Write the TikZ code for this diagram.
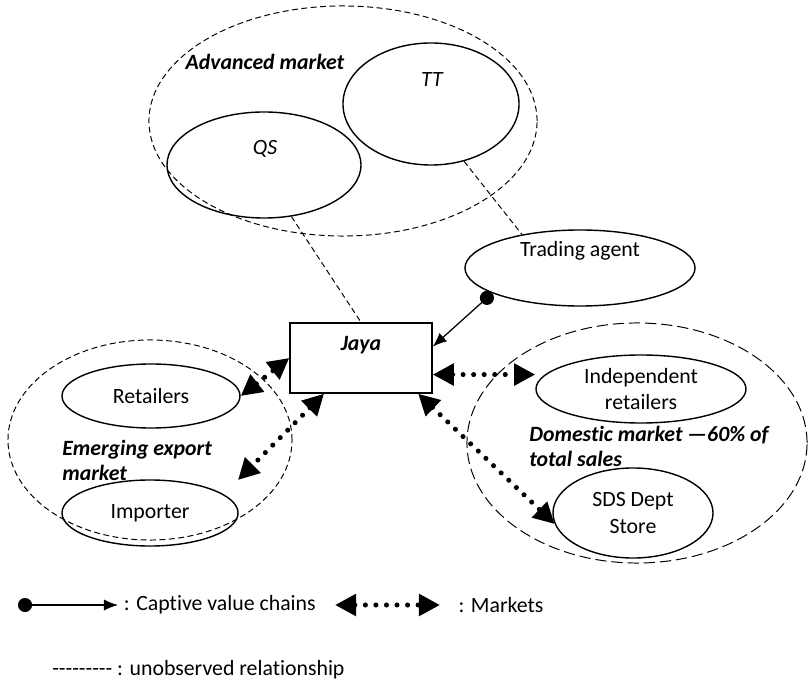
\documentclass[tikz,border=0pt]{standalone}
\usepackage{fontspec}
\setmainfont{Carlito}[Ligatures={TeXOff,NoCommon}]
\usepackage{tikz}
\usetikzlibrary{arrows.meta,positioning,shapes.geometric,calc}
\tikzset{
  market/.style   ={draw,ellipse,dash pattern=on 4.2pt off 2.5pt,line width=0.7pt},
  domestic/.style ={draw,ellipse,dash pattern=on 8pt off 3.5pt,line width=0.7pt},
  actor/.style    ={draw,ellipse,line width=1pt,align=center,inner sep=0pt,font=\fontsize{15.5}{19}\selectfont},
  firm/.style     ={draw,rectangle,line width=1pt,minimum width=3.55cm,minimum height=1.75cm},
  lbl/.style      ={inner sep=0pt,font=\fontsize{15.5}{18}\selectfont},
  title/.style    ={inner sep=0pt,align=left,font=\fontsize{15.5}{18}\selectfont\bfseries\itshape},
  unobs/.style    ={dash pattern=on 4pt off 2.5pt,line width=0.7pt},
  captive/.style  ={{Circle[length=10pt]}-{Latex[length=10pt,width=8pt]},line width=0.9pt},
  sale/.style     ={{Triangle[length=15pt,width=15pt]}-{Triangle[length=15pt,width=15pt]},
                    line width=3.6pt,line cap=round,dash pattern=on 0pt off 7.5pt}
}
\begin{document}
\begin{tikzpicture}[x=0.025cm,y=-0.025cm]
    \useasboundingbox (0,0) rectangle (808,681);
    \node[market,minimum width=9.7cm,minimum height=5.75cm] (adv) at (343,121) {};
    \node[actor,minimum width=4.4cm,minimum height=3.05cm]  (tt)  at (431,104) {};
    \node[actor,minimum width=4.85cm,minimum height=2.65cm] (qs)  at (264,165) {};
    \node[title] (adv-t) at (265,62)  {Advanced market};
    \node[lbl]   (tt-t)  at (432,80)  {\itshape TT};
    \node[lbl]   (qs-t)  at (265,149) {\itshape QS};
    \node[actor,minimum width=5.75cm,minimum height=1.9cm]  (agent) at (580,268) {};
    \node[lbl]   (agent-t) at (580,251) {Trading agent};
    \node[firm]  (jaya)   at (361,358) {};
    \node[title] (jaya-t) at (361,345) {Jaya};
    \node[market,minimum width=7.1cm,minimum height=5cm]    (emg)      at (150,440) {};
    \node[actor,minimum width=4.45cm,minimum height=1.6cm]  (retail)   at (151,396) {Retailers};
    \node[actor,minimum width=4.4cm,minimum height=1.65cm]  (importer) at (150,513) {Importer};
    \node[title,anchor=north west] (emg-t) at (62,440) {Emerging export\\market};
    \node[domestic,minimum width=8.5cm,minimum height=6cm]  (dom)   at (637,443) {};
    \node[actor,minimum width=5.25cm,minimum height=1.7cm]  (indep) at (641,389) {Independent\\retailers};
    \node[actor,minimum width=4cm,minimum height=2.25cm]    (sds)   at (633,513) {SDS Dept\\Store};
    \node[title,anchor=north west] (dom-t) at (529,426) {Domestic market —60\% of\\total sales};
    \coordinate (imp-end) at (238,480);
    \draw[unobs] (qs.-62) -- (jaya.north);
    \draw[unobs] (tt.-60) -- (agent.150);
    \draw[captive] (agent.196) -- (jaya.9);
    \draw[sale] (retail.east) -- (jaya.west);
    \draw[sale] (jaya.-136) -- (imp-end);
    \draw[sale] (jaya.-13) -- (jaya.-13 -| indep.west);
    \draw[sale] (jaya.-32) -- (sds.188);
    \coordinate (cap-a) at (18,605);
    \coordinate (cap-b) at (118,605);
    \draw[captive] (cap-a) -- (cap-b);
    \node[lbl,right=4pt of cap-b] (cap-t) {: Captive value chains};
    \coordinate (mkt-a) at (335,605);
    \coordinate (mkt-b) at (440,605);
    \draw[sale] (mkt-a) -- (mkt-b);
    \node[lbl,right=13pt of mkt-b] (mkt-t) {: Markets};
    \node[lbl,anchor=west] (unobs-t) at (52,670) {--------- : unobserved relationship};
\end{tikzpicture}
\end{document}
